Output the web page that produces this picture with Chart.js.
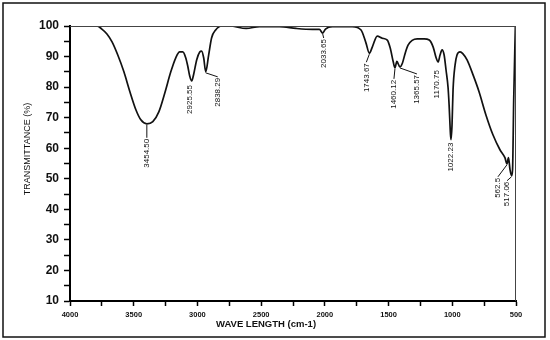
<!DOCTYPE html>
<html>
<head>
<meta charset="utf-8">
<script src="https://cdn.jsdelivr.net/npm/chart.js@4/dist/chart.umd.min.js"></script>
<style>
  body { margin: 0; background: #fff; }
  #wrap { width: 550px; height: 340px; }
</style>
</head>
<body>
<div id="wrap"><canvas id="irChart" width="550" height="340"></canvas></div>
<script>
// Spectrum (wave number, % transmittance)
const waveNumbers = [4000, 3880, 3790, 3750, 3710, 3670, 3625, 3577, 3530, 3483, 3444, 3397, 3350, 3303, 3256, 3209, 3170, 3139, 3115, 3092, 3076, 3061, 3045, 3029, 3006, 2982, 2967, 2951, 2935, 2912, 2889, 2857, 2810, 2748, 2617, 2512, 2356, 2225, 2097, 2043, 2017, 1995, 1941, 1784, 1716, 1677, 1651, 1627, 1589, 1549, 1510, 1487, 1463, 1450, 1435, 1411, 1391, 1369, 1346, 1315, 1275, 1221, 1181, 1150, 1127, 1111, 1096, 1080, 1064, 1049, 1033, 1025, 1014, 1010, 1002, 994, 978, 963, 939, 916, 884, 837, 790, 736, 681, 626, 587, 571, 559, 547, 535, 527, 518, 505];
const transmittance = [100, 100, 100, 99, 97.4, 94.8, 90.5, 85, 78.5, 72.6, 69.3, 68, 68.7, 71.9, 78.1, 85, 89.6, 91.5, 91.5, 89.6, 86.9, 83.7, 82, 84.3, 88.9, 91.5, 91.8, 89.6, 85, 90.5, 96.1, 98.7, 100, 100, 99.2, 99.8, 99.8, 99.2, 98.9, 98.9, 97.7, 99, 99.8, 99.8, 98.7, 94.4, 91.1, 93.2, 96.7, 96, 95.4, 92.8, 88.2, 86.3, 88.4, 86.6, 87.9, 91.2, 93.8, 95.3, 95.8, 95.8, 95.4, 93.1, 89.6, 88.2, 90.5, 92.2, 90.5, 85.6, 79.8, 74.2, 64.4, 62.8, 67.7, 79.1, 87.3, 90.5, 91.5, 90.9, 88.9, 84, 78.5, 70.9, 64.4, 59.5, 56.9, 54.9, 56.9, 53, 51, 53, 75.8, 100];

// Peak labels (where the dip sits in the trace, and the printed value)
const peakWn = [3397, 3045, 2935, 2017, 1651, 1450, 1411, 1111, 1010, 571, 535];
const peakT = [68, 82, 85, 97.7, 91.1, 86.3, 86.6, 88.2, 62.8, 54.9, 51];
const peakText = ["3454.50", "2925.55", "2838.29", "2033.65", "1743.67", "1460.12", "1365.57", "1170.75", "1022.23", "562.5", "517.06"];

// Axis text
const xTitle = "WAVE LENGTH (cm-1)";
const yTitle = "TRANSMITTANCE (%)";

// label placement: [dx, gap below dip, draw leader]
const labelPlace = [
  [0, 15, true], [-2, 4, false], [12, 6, true], [1, 6, true], [-3, 10, true],
  [-1, 12, true], [17, 8, true], [-1, 8, false], [0, 3, false], [-9, 14, true], [-4.5, 6, true],
];

const FONT = "'Liberation Sans', Arial, sans-serif";

const notesPlugin = {
  id: "notes",
  afterDraw(chart) {
    const { ctx, chartArea: a } = chart;
    const x = chart.scales.x;
    const y = chart.scales.y;
    ctx.save();

    // plot frame (top and right)
    ctx.strokeStyle = "#444";
    ctx.lineWidth = 1;
    ctx.beginPath();
    ctx.moveTo(a.left, a.top + 0.5);
    ctx.lineTo(a.right, a.top + 0.5);
    ctx.moveTo(a.right - 0.5, a.top);
    ctx.lineTo(a.right - 0.5, a.bottom);
    ctx.stroke();

    // outer border
    ctx.strokeStyle = "#111";
    ctx.lineWidth = 1.5;
    ctx.strokeRect(3, 3, 542, 334);

    // peak labels
    ctx.fillStyle = "#111";
    ctx.strokeStyle = "#111";
    ctx.lineWidth = 1;
    ctx.font = "8px " + FONT;
    peakWn.forEach((wn, i) => {
      const px = x.getPixelForValue(wn);
      const py = y.getPixelForValue(peakT[i]);
      const [dx, gap, leader] = labelPlace[i];
      const tx = px + dx;
      const ty = py + gap;
      if (leader) {
        ctx.beginPath();
        ctx.moveTo(px, py + 1);
        ctx.lineTo(tx, ty - 1);
        ctx.stroke();
      }
      ctx.save();
      ctx.translate(tx, ty);
      ctx.rotate(-Math.PI / 2);
      ctx.textAlign = "right";
      ctx.textBaseline = "middle";
      ctx.fillText(peakText[i], 0, 0);
      ctx.restore();
    });

    // axis titles
    ctx.font = "bold 9.5px " + FONT;
    ctx.textAlign = "center";
    ctx.textBaseline = "middle";
    ctx.fillText(xTitle, 266, 324);

    ctx.save();
    ctx.translate(28, 149);
    ctx.rotate(-Math.PI / 2);
    ctx.font = "9px " + FONT;
    ctx.fillText(yTitle, 0, 0);
    ctx.restore();

    ctx.restore();
  },
};

const ctx = document.getElementById("irChart");

new Chart(ctx, {
  type: "line",
  data: {
    datasets: [
      {
        data: waveNumbers.map((wn, i) => ({ x: wn, y: transmittance[i] })),
        borderColor: "#111",
        borderWidth: 1.7,
        pointRadius: 0,
        fill: false,
        cubicInterpolationMode: "monotone",
      },
    ],
  },
  options: {
    responsive: false,
    animation: false,
    layout: {
      padding: { left: 0, top: 26, right: 34, bottom: 0 },
    },
    plugins: {
      legend: { display: false },
      tooltip: { enabled: false },
    },
    scales: {
      x: {
        type: "linear",
        reverse: true,
        min: 500,
        max: 4000,
        afterFit: (scale) => { scale.height = 39; },
        border: { display: true, color: "#000", width: 2 },
        grid: { drawOnChartArea: false, drawTicks: true, tickLength: 5, tickColor: "#000", tickWidth: 1.5 },
        ticks: {
          stepSize: 250,
          autoSkip: false,
          maxRotation: 0,
          padding: 4,
          color: "#111",
          font: { family: FONT, size: 7.5, weight: "bold" },
          callback: (v) => (v % 500 === 0 ? v : ""),
        },
      },
      y: {
        min: 10,
        max: 100,
        afterFit: (scale) => { scale.width = 70; },
        border: { display: true, color: "#000", width: 2 },
        grid: { drawOnChartArea: false, drawTicks: true, tickLength: 6, tickColor: "#000", tickWidth: 1.5 },
        ticks: {
          stepSize: 5,
          autoSkip: false,
          padding: 5,
          color: "#111",
          font: { family: FONT, size: 12, weight: "bold" },
          callback: (v) => (v % 10 === 0 ? v : ""),
        },
      },
    },
  },
  plugins: [notesPlugin],
});
</script>
</body>
</html>
